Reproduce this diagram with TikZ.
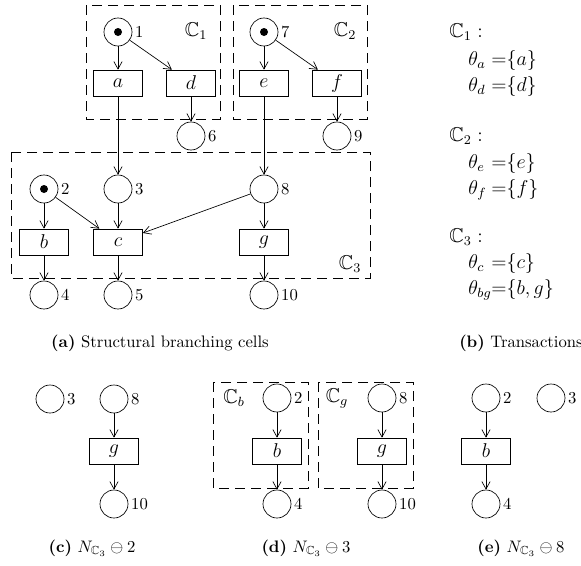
\documentclass[tikz,border=0pt]{standalone}
\usepackage{amssymb}
\usetikzlibrary{arrows.meta}
\tikzset{
  place/.style={circle,draw,minimum size=16.8pt,inner sep=0pt},
  marked/.style={place,path picture={\fill (path picture bounding box.center) circle (2.4pt);}},
  trans/.style={draw,minimum width=29.4pt,minimum height=15.6pt,inner sep=0pt,font=\large},
  cell/.style={draw,dash pattern=on 6pt off 3.6pt},
  celllbl/.style={font=\large},
  arc/.style={-{Straight Barb[length=4.5pt,width=5pt]}},
  every label/.style={inner sep=1.5pt},
  txt/.style={anchor=base west,inner sep=0pt,font=\large}
}
\begin{document}
\begin{tikzpicture}[x=0.6pt,y=-0.6pt]
\useasboundingbox (0,0) rectangle (581,565);

\draw[cell] (86,5) rectangle (220,119);
\draw[cell] (233,5) rectangle (367,119);
\draw[cell] (11,152) rectangle (370,278);
\node[celllbl] (lc1) at (196,31) {$\mathbb{C}_1$};
\node[celllbl] (lc2) at (345,31) {$\mathbb{C}_2$};
\node[celllbl] (lc3) at (350,264) {$\mathbb{C}_3$};

\node[marked,label=east:1] (p1) at (118,32) {};
\node[trans] (ta) at (118,83) {$a$};
\node[trans] (td) at (191,83) {$d$};
\node[place,label=east:6] (p6) at (191,136) {};
\node[marked,label=east:7] (p7) at (264,32) {};
\node[trans] (te) at (264,83) {$e$};
\node[trans] (tf) at (337,83) {$f$};
\node[place,label=east:9] (p9) at (337,136) {};
\node[marked,label=east:2] (p2) at (44,189) {};
\node[place,label=east:3] (p3) at (118,189) {};
\node[place,label=east:8] (p8) at (264,189) {};
\node[trans] (tb) at (44,242) {$b$};
\node[trans] (tc) at (118,242) {$c$};
\node[trans] (tg) at (264,242) {$g$};
\node[place,label=east:4] (p4) at (44,295) {};
\node[place,label=east:5] (p5) at (118,295) {};
\node[place,label=east:10] (p10) at (264,295) {};

\draw[arc] (p1) -- (ta);
\draw[arc] (p1) -- (td);
\draw[arc] (td) -- (p6);
\draw[arc] (p7) -- (te);
\draw[arc] (p7) -- (tf);
\draw[arc] (tf) -- (p9);
\draw[arc] (ta) -- (p3);
\draw[arc] (te) -- (p8);
\draw[arc] (p2) -- (tb);
\draw[arc] (p2) -- (tc);
\draw[arc] (p3) -- (tc);
\draw[arc] (p8) -- (tc);
\draw[arc] (p8) -- (tg);
\draw[arc] (tb) -- (p4);
\draw[arc] (tc) -- (p5);
\draw[arc] (tg) -- (p10);

\node[txt] (hc1) at (449,37) {$\mathbb{C}_1:$};
\node[txt] (hc2) at (449,141) {$\mathbb{C}_2:$};
\node[txt] (hc3) at (449,242) {$\mathbb{C}_3:$};
\foreach \n/\s/\y in {a/a/65,d/d/91,e/e/168,f/f/194,c/c/268,bg/{b,g}/294}{
  \node[txt] (th\n) at (468,\y) {$\theta_{\n}$};
  \node[txt] (eq\n) at (491,\y) {${=}\{\s\}$};
}

\node (capa) at (160,343) {\textbf{(a)} Structural branching cells};
\node (capb) at (521,343) {\textbf{(b)} Transactions};

\node[place,label=east:3] (q3) at (50,399) {};
\node[place,label=east:8] (q8) at (114,399) {};
\node[trans] (qg) at (114,451) {$g$};
\node[place,label=east:10] (q10) at (114,504) {};
\draw[arc] (q8) -- (qg);
\draw[arc] (qg) -- (q10);
\node (capc) at (92,548) {\textbf{(c)} $N_{\mathbb{C}_3}\ominus 2$};

\draw[cell] (213,382) rectangle (308,488);
\draw[cell] (318,382) rectangle (413,488);
\node[celllbl] (lcb) at (234,398) {$\mathbb{C}_b$};
\node[celllbl] (lcg) at (337,398) {$\mathbb{C}_g$};
\node[place,label=east:2] (r2) at (277,398) {};
\node[trans] (rb) at (277,451) {$b$};
\node[place,label=east:4] (r4) at (277,504) {};
\node[place,label=east:8] (r8) at (382,398) {};
\node[trans] (rg) at (382,451) {$g$};
\node[place,label=east:10] (r10) at (382,504) {};
\draw[arc] (r2) -- (rb);
\draw[arc] (rb) -- (r4);
\draw[arc] (r8) -- (rg);
\draw[arc] (rg) -- (r10);
\node (capd) at (306,548) {\textbf{(d)} $N_{\mathbb{C}_3}\ominus 3$};

\node[place,label=east:2] (s2) at (486,398) {};
\node[trans] (sb) at (486,451) {$b$};
\node[place,label=east:4] (s4) at (486,504) {};
\node[place,label=east:3] (s3) at (551,398) {};
\draw[arc] (s2) -- (sb);
\draw[arc] (sb) -- (s4);
\node (cape) at (521,548) {\textbf{(e)} $N_{\mathbb{C}_3}\ominus 8$};
\end{tikzpicture}
\end{document}
